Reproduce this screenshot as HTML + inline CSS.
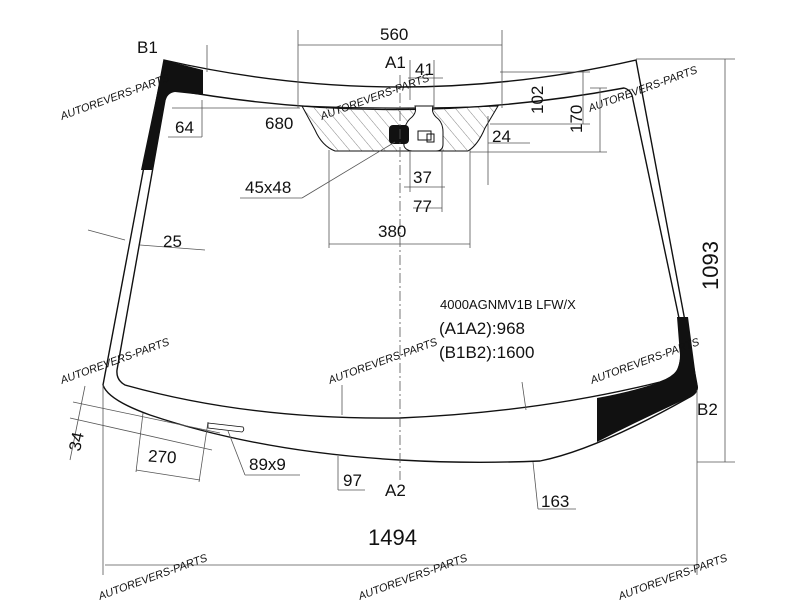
<!DOCTYPE html>
<html><head><meta charset="utf-8"><style>
html,body{margin:0;padding:0;background:#fff}
svg{display:block}
text{font-family:"Liberation Sans",sans-serif;fill:#111}
.wm{fill:#a8d6f2;font-size:11px;font-style:italic}
</style></head><body>
<svg width="800" height="600" viewBox="0 0 800 600" xmlns="http://www.w3.org/2000/svg">
<defs>
<pattern id="h" width="9" height="9" patternUnits="userSpaceOnUse" patternTransform="rotate(-40)">
<line x1="0" y1="0" x2="0" y2="9" stroke="#333" stroke-width="0.6"/></pattern>
</defs>
<g fill="none" stroke="#111" stroke-width="1.4">
<path d="M164,60 Q400,114 636,60 L697,385 Q699,393 688,398 C640,425 585,452 540,461 Q470,464 400,460 Q260,452 150,415 Q108,400 103,385 Z"/>
<path d="M175,90 Q400,130 624,88 Q632,90 633,100 L679,318 Q685,350 678,370 Q672,378 660,382 Q540,412 400,418 Q250,420 125,385 Q116,380 117,370 L165,100 Q168,90 175,90 Z"/>
</g>
<path d="M164,60 L203,70 L203,95 L175,92 Q167,93 165,102 L153,170 L141,170 Z" fill="#111"/>
<path d="M677,317 L688,317 L697,385 Q699,393 688,398 Q640,420 597,442 L597,398 Q640,390 668,379 Q680,372 680,355 Z" fill="#111"/>
<!-- sensor area -->
<path d="M302,106 Q400,110 498,106 L485,128 Q478,145 468,151 L335,151 Q322,146 315,130 Z" fill="url(#h)" stroke="#111" stroke-width="1"/>
<path d="M415,106 Q417,112 412,117 Q404,123 404,135 L404,146 Q406,151 414,151 L436,151 Q443,151 443,144 L443,132 Q443,122 436,117 Q431,112 433,106 Z" fill="#fff" stroke="#111" stroke-width="1"/>
<rect x="389" y="125" width="20" height="19" rx="4" fill="#111"/>
<rect x="418" y="131" width="13" height="9" fill="none" stroke="#111"/>
<rect x="427" y="134" width="7" height="8" fill="none" stroke="#111"/>
<g stroke="#555" stroke-width="0.8" fill="none">
<line x1="400" y1="75" x2="400" y2="480" stroke-dasharray="10,3,2,3"/>
<line x1="298" y1="30" x2="298" y2="108"/><line x1="502" y1="30" x2="502" y2="108"/>
<line x1="298" y1="45" x2="502" y2="45"/>
<line x1="410" y1="60" x2="410" y2="100"/><line x1="434" y1="60" x2="434" y2="110"/>
<line x1="408" y1="78" x2="443" y2="78"/>
<line x1="172" y1="108" x2="300" y2="108"/>
<line x1="207" y1="45" x2="207" y2="72"/><line x1="202" y1="100" x2="202" y2="137"/><line x1="168" y1="137" x2="202" y2="137"/>
<line x1="500" y1="72" x2="590" y2="72"/><line x1="490" y1="124" x2="590" y2="124"/><line x1="583" y1="72" x2="583" y2="124"/>
<line x1="470" y1="152" x2="607" y2="152"/><line x1="590" y1="88" x2="607" y2="88"/><line x1="600" y1="88" x2="600" y2="152"/>
<line x1="488" y1="116" x2="488" y2="185"/><line x1="488" y1="143" x2="530" y2="143"/>
<line x1="636" y1="59" x2="735" y2="59"/><line x1="697" y1="462" x2="735" y2="462"/><line x1="725" y1="59" x2="725" y2="462"/>
<line x1="329" y1="150" x2="329" y2="248"/><line x1="470" y1="150" x2="470" y2="248"/><line x1="329" y1="244" x2="470" y2="244"/>
<line x1="410" y1="150" x2="410" y2="192"/><line x1="442" y1="150" x2="442" y2="212"/><line x1="404" y1="187" x2="445" y2="187"/><line x1="413" y1="208" x2="442" y2="208"/>
<line x1="395" y1="142" x2="302" y2="198"/><line x1="240" y1="198" x2="302" y2="198"/>
<line x1="88" y1="230" x2="125" y2="240"/><line x1="140" y1="245" x2="205" y2="250"/>
<line x1="103" y1="385" x2="103" y2="575"/><line x1="697" y1="390" x2="697" y2="575"/><line x1="105" y1="565" x2="697" y2="565"/>
<line x1="73" y1="402" x2="220" y2="433"/><line x1="70" y1="418" x2="212" y2="450"/>
<line x1="85" y1="386" x2="70" y2="460"/><line x1="136" y1="470" x2="200" y2="480"/><line x1="143" y1="413" x2="136" y2="472"/><line x1="208" y1="422" x2="199" y2="482"/>
<path d="M208,423 L243,427 Q245,430 242,432 L208,428 Z" stroke="#111"/>
<line x1="228" y1="431" x2="245" y2="475"/><line x1="245" y1="475" x2="300" y2="475"/>
<line x1="338" y1="456" x2="338" y2="490"/><line x1="338" y1="490" x2="365" y2="490"/>
<line x1="342" y1="385" x2="342" y2="415"/><line x1="522" y1="382" x2="526" y2="410"/>
<line x1="533" y1="462" x2="538" y2="509"/><line x1="538" y1="509" x2="576" y2="509"/>
</g>
<g font-size="17">
<text x="380" y="40">560</text>
<text x="385" y="68">A1</text><text x="415" y="75">41</text>
<text x="137" y="53">B1</text>
<text x="175" y="133">64</text><text x="265" y="129">680</text>
<text x="492" y="142">24</text>
<text x="245" y="193">45x48</text>
<text x="413" y="183">37</text><text x="413" y="212">77</text>
<text x="378" y="237">380</text>
<text x="163" y="247">25</text>
<text x="148" y="463" transform="rotate(4 170 458)">270</text>
<text x="249" y="470">89x9</text>
<text x="343" y="486">97</text>
<text x="385" y="496">A2</text>
<text x="541" y="507">163</text>
<text x="697" y="415">B2</text>
<text x="439" y="334">(A1A2):968</text>
<text x="439" y="358">(B1B2):1600</text>
<text x="0" y="0" transform="translate(543,114) rotate(-90)">102</text>
<text x="0" y="0" transform="translate(582,133) rotate(-90)">170</text>
<text x="0" y="0" transform="translate(80,452) rotate(-78)">34</text>
</g>
<text x="440" y="309" font-size="13">4000AGNMV1B LFW/X</text>
<text x="368" y="545" font-size="22">1494</text>
<text x="0" y="0" font-size="22" transform="translate(718,290) rotate(-90)">1093</text>
<g class="wm">
<text transform="translate(62,120) rotate(-20)">AUTOREVERS-PARTS</text>
<text transform="translate(322,120) rotate(-20)">AUTOREVERS-PARTS</text>
<text transform="translate(590,112) rotate(-20)">AUTOREVERS-PARTS</text>
<text transform="translate(62,384) rotate(-20)">AUTOREVERS-PARTS</text>
<text transform="translate(330,384) rotate(-20)">AUTOREVERS-PARTS</text>
<text transform="translate(592,384) rotate(-20)">AUTOREVERS-PARTS</text>
<text transform="translate(100,600) rotate(-20)">AUTOREVERS-PARTS</text>
<text transform="translate(360,600) rotate(-20)">AUTOREVERS-PARTS</text>
<text transform="translate(620,600) rotate(-20)">AUTOREVERS-PARTS</text>
</g>
</svg>
</body></html>
